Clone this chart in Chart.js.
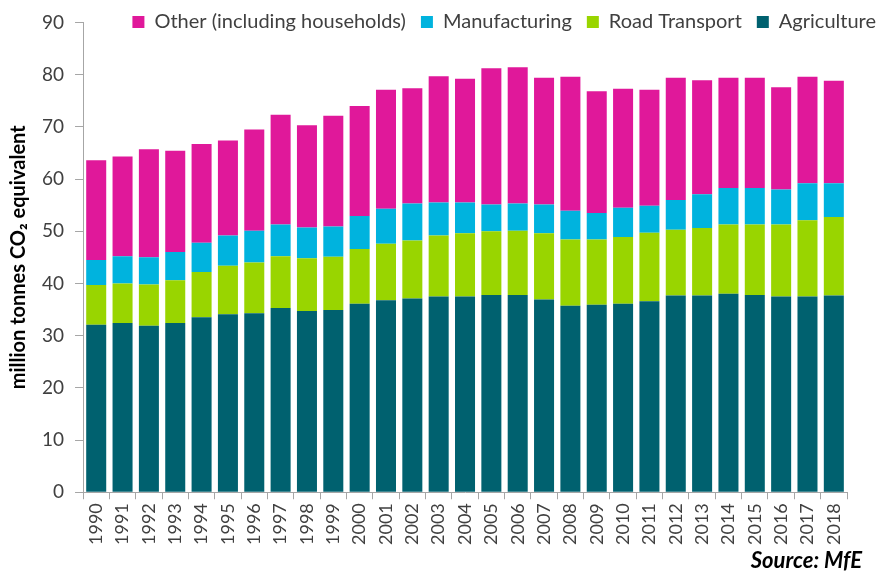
<!DOCTYPE html>
<html>
<head>
<meta charset="utf-8">
<script src="https://cdn.jsdelivr.net/npm/chart.js@4.4.1/dist/chart.umd.min.js"></script>
<style>
  html, body { margin: 0; padding: 0; background: #fff; }
  #wrap { width: 883px; height: 571px; }
</style>
</head>
<body>
<div id="wrap"><canvas id="emissionsChart" width="883" height="571"></canvas></div>
<script>
// anos
var years = ["1990", "1991", "1992", "1993", "1994", "1995", "1996", "1997", "1998", "1999",
    "2000", "2001", "2002", "2003", "2004", "2005", "2006", "2007", "2008", "2009",
    "2010", "2011", "2012", "2013", "2014", "2015", "2016", "2017", "2018"];

// million tonnes CO2-e per sector (stacked)
var agriculture = [32.1, 32.4, 31.9, 32.4, 33.5, 34.1, 34.3, 35.3, 34.7, 34.9,
    36.1, 36.8, 37.1, 37.5, 37.5, 37.8, 37.8, 36.9, 35.7, 35.9,
    36.1, 36.6, 37.7, 37.7, 38.0, 37.8, 37.5, 37.5, 37.7];
var roadTransport = [7.6, 7.6, 7.9, 8.2, 8.7, 9.3, 9.7, 9.9, 10.1, 10.2,
    10.5, 10.8, 11.1, 11.7, 12.1, 12.2, 12.3, 12.7, 12.7, 12.5,
    12.8, 13.1, 12.6, 12.9, 13.3, 13.5, 13.8, 14.6, 15.0];
var manufacturing = [4.8, 5.2, 5.2, 5.4, 5.6, 5.8, 6.1, 6.1, 5.9, 5.8,
    6.3, 6.7, 7.1, 6.3, 5.9, 5.1, 5.2, 5.5, 5.5, 5.1,
    5.6, 5.2, 5.7, 6.5, 7.0, 7.0, 6.7, 7.1, 6.5];
var other = [19.1, 19.1, 20.7, 19.4, 18.9, 18.2, 19.4, 21.0, 19.6, 21.2,
    21.1, 22.8, 22.1, 24.2, 23.7, 26.1, 26.1, 24.3, 25.7, 23.3,
    22.8, 22.2, 23.4, 21.8, 21.1, 21.1, 19.6, 20.4, 19.6];

var yTicks = [0, 10, 20, 30, 40, 50, 60, 70, 80, 90];

var textColor = "#404040";
var axisColor = "#a6a6a6";
var fontFamily = "Lato, 'Open Sans', sans-serif";

// legend sits over the top of the plot, like in the original
var overlayPlugin = {
    id: "overlay",
    beforeLayout: function (chart) {
        var lg = chart.legend;
        if (lg && !lg._flat) {
            var origFit = lg.fit.bind(lg);
            lg.fit = function () { origFit(); this.height = 0; };
            lg._flat = true;
        }
    },
    afterLayout: function (chart) {
        var lg = chart.legend;
        lg.top = -3;
        lg.bottom = 45;
        lg.height = lg.bottom - lg.top;
        lg.left = 0;
        lg.right = 891;
        lg.width = lg.right - lg.left;
        chart.titleBlock.right = 862;
    }
};

var barData = {
    labels: years,
    datasets: [
        { label: "Agriculture", backgroundColor: "#00616f", data: agriculture },
        { label: "Road Transport", backgroundColor: "#99d500", data: roadTransport },
        { label: "Manufacturing", backgroundColor: "#00b3de", data: manufacturing },
        { label: "Other (including households)", backgroundColor: "#e0189a", data: other }
    ]
};

var barOptions = {
    responsive: false,
    animation: false,
    layout: { padding: { left: 3, right: 36, top: 9, bottom: 0 } },
    datasets: { bar: { barPercentage: 0.76, categoryPercentage: 1.0, borderWidth: 0 } },
    plugins: {
        legend: {
            position: "top",
            align: "end",
            reverse: true,
            labels: {
                boxWidth: 12,
                boxHeight: 12,
                padding: 15,
                color: textColor,
                font: { family: fontFamily, size: 20 }
            }
        },
        title: {
            display: true,
            text: "Source: MfE",
            position: "bottom",
            align: "end",
            color: "#000",
            padding: { top: 1, bottom: -1 },
            font: { family: fontFamily, size: 22, weight: "bold", style: "italic", lineHeight: 1.0 }
        },
        tooltip: { enabled: false }
    },
    scales: {
        x: {
            stacked: true,
            grid: { display: true, drawOnChartArea: false, color: axisColor, tickLength: 7 },
            border: { color: axisColor },
            ticks: {
                color: textColor,
                font: { family: fontFamily, size: 18 },
                minRotation: 90,
                maxRotation: 90,
                autoSkip: false,
                padding: 4
            }
        },
        y: {
            stacked: true,
            min: 0,
            max: 90,
            afterBuildTicks: function (axis) {
                axis.ticks = yTicks.map(function (v) { return { value: v }; });
            },
            grid: { display: true, drawOnChartArea: false, color: axisColor, tickLength: 8 },
            border: { color: axisColor },
            ticks: {
                color: textColor,
                font: { family: fontFamily, size: 19 },
                padding: 11
            },
            title: {
                display: true,
                text: "million tonnes CO\u2082 equivalent",
                color: "#000",
                font: { family: fontFamily, size: 20, weight: "bold" },
                padding: { top: 4, bottom: 0 }
            }
        }
    }
};

var ctx1 = document.getElementById("emissionsChart").getContext("2d");
new Chart(ctx1, { type: "bar", data: barData, options: barOptions, plugins: [overlayPlugin] });
</script>
</body>
</html>
